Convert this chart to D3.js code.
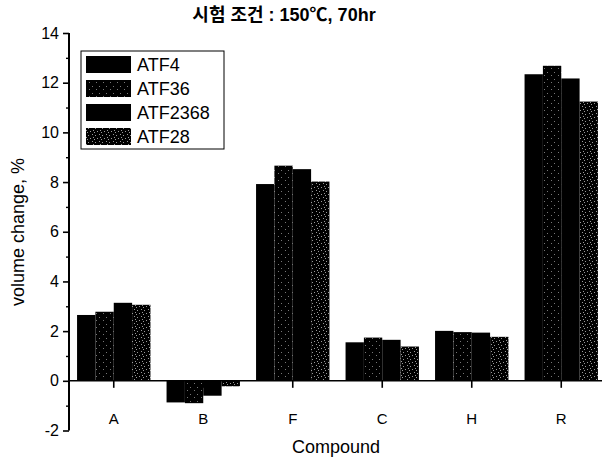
<!DOCTYPE html>
<html lang="ko">
<head>
<meta charset="utf-8">
<style>
  body { margin: 0; background: #fff; }
  text { font-family: "Liberation Sans", Arial, "Noto Sans CJK KR", sans-serif; }
</style>
</head>
<body>
<script src="https://cdn.jsdelivr.net/npm/d3@7"></script>
<div id="chart"></div>
<script>
// data
var compounds = ["A", "B", "F", "C", "H", "R"];
var series = ["ATF4", "ATF36", "ATF2368", "ATF28"];
var atf4 = [2.65, -0.87, 7.92, 1.55, 2.01, 12.34];
var atf36 = [2.78, -0.90, 8.66, 1.74, 1.96, 12.68];
var atf2368 = [3.14, -0.60, 8.52, 1.65, 1.94, 12.17];
var atf28 = [3.06, -0.22, 8.02, 1.38, 1.77, 11.24];
var yTicks = [-2, 0, 2, 4, 6, 8, 10, 12, 14];
var values = [atf4, atf36, atf2368, atf28];

var W = 602, H = 463;
var svg = d3.select("#chart").append("svg")
    .attr("width", W).attr("height", H);

// speckle patterns for the scanned-looking fills
var defs = svg.append("defs");
function speckle(id, dots, col) {
    var p = defs.append("pattern").attr("id", id)
        .attr("width", 7).attr("height", 7)
        .attr("patternUnits", "userSpaceOnUse");
    p.append("rect").attr("width", 7).attr("height", 7).attr("fill", "#000");
    dots.forEach(function (d) {
        p.append("rect").attr("x", d[0]).attr("y", d[1])
            .attr("width", 1).attr("height", 1).attr("fill", col);
    });
}
speckle("p36", [[1, 2], [5, 5]], "#777");
speckle("p28", [[1, 1], [4, 2], [2, 4], [6, 5], [3, 6]], "#999");
var fills = ["#000", "url(#p36)", "#000", "url(#p28)"];

var x = d3.scaleBand().domain(compounds)
    .range([69, 606]).paddingInner(0.18).paddingOuter(0.09);
var xs = d3.scaleBand().domain(series).range([0, x.bandwidth()]);
var y = d3.scaleLinear().domain([-2, 14]).range([430.5, 33]);

// bars
series.forEach(function (s, si) {
    svg.append("g").selectAll("rect")
        .data(compounds)
        .enter().append("rect")
        .attr("x", function (c) { return x(c) + xs(s); })
        .attr("width", xs.bandwidth())
        .attr("y", function (c, i) { return y(Math.max(0, values[si][i])); })
        .attr("height", function (c, i) { return Math.abs(y(values[si][i]) - y(0)); })
        .attr("fill", fills[si]);
});

// y axis with minor ticks
var yAxis = svg.append("g").attr("transform", "translate(69,0)")
    .call(d3.axisLeft(y).tickValues(yTicks).tickSize(6).tickPadding(4)
        .tickFormat(function (d) { return String(d); }));
yAxis.select(".domain").attr("stroke-width", 2).attr("d", "M0," + y(-2) + "V" + y(14));
yAxis.selectAll(".tick line").attr("stroke-width", 1.6);
yAxis.selectAll("text").style("font-size", "16px").attr("fill", "#000");
svg.append("g").attr("transform", "translate(69,0)")
    .call(d3.axisLeft(y).tickValues(d3.range(-1, 14, 2)).tickSize(3).tickFormat(""))
    .call(function (g) { g.select(".domain").remove(); })
    .selectAll("line").attr("stroke-width", 1.4);

// x axis along zero
var xAxis = svg.append("g").attr("transform", "translate(0," + y(0) + ")")
    .call(d3.axisBottom(x).tickSize(7).tickPadding(26));
xAxis.select(".domain").attr("stroke-width", 1.6).attr("d", "M69,0H" + W);
xAxis.selectAll(".tick line").attr("stroke-width", 1.6);
xAxis.selectAll("text").style("font-size", "15px").attr("fill", "#000");

// titles
svg.append("text").attr("x", 284).attr("y", 21)
    .attr("text-anchor", "middle").style("font-size", "18px").style("font-weight", "bold")
    .text("시험 조건 : 150℃, 70hr");
svg.append("text").attr("x", 336).attr("y", 453)
    .attr("text-anchor", "middle").style("font-size", "18px")
    .text("Compound");
svg.append("text").attr("transform", "translate(24,232) rotate(-90)")
    .attr("text-anchor", "middle").style("font-size", "18px")
    .text("volume change, %");

// legend
var lg = svg.append("g");
lg.append("rect").attr("x", 81).attr("y", 51).attr("width", 143).attr("height", 98)
    .attr("fill", "#fff").attr("stroke", "#000").attr("stroke-width", 1);
series.forEach(function (s, i) {
    lg.append("rect").attr("x", 86).attr("y", 56 + i * 24)
        .attr("width", 45).attr("height", 17).attr("fill", fills[i]);
    lg.append("text").attr("x", 137).attr("y", 71 + i * 24)
        .style("font-size", "18px").text(s);
});
</script>
</body>
</html>
